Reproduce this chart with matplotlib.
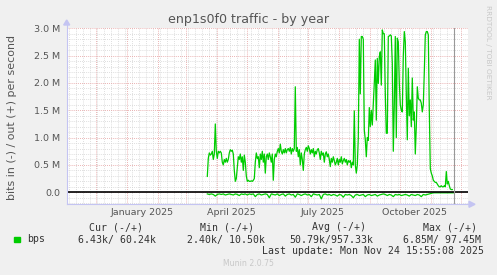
import matplotlib
matplotlib.use("Agg")
import matplotlib.pyplot as plt
import matplotlib.dates as mdates
from matplotlib.lines import Line2D
from matplotlib.patches import Polygon
from datetime import datetime, timedelta
import numpy as np

# ---------------- data ----------------
last_update = datetime(2025, 11, 24, 15, 55, 8)
view_days = (-387.6, 13.7)           # days relative to last update

out_first_day = -247                 # daily values, Mbit/s (out, +)
out_mbps = [
    0.29, 0.62, 0.72, 0.68, 0.70, 0.75, 0.60, 0.70, 1.25, 0.75,
    0.62, 0.75, 0.72, 0.75, 0.72, 0.55, 0.50, 0.60, 0.55, 0.62,
    0.55, 0.60, 0.72, 0.78, 0.75, 0.77, 0.70, 0.40, 0.20, 0.25,
    0.45, 0.65, 0.60, 0.70, 0.55, 0.65, 0.40, 0.68, 0.55, 0.30,
    0.20, 0.22, 0.20, 0.20, 0.21, 0.20, 0.22, 0.25, 0.55, 0.72,
    0.62, 0.65, 0.45, 0.70, 0.60, 0.75, 0.55, 0.70, 0.35, 0.65,
    0.70, 0.60, 0.72, 0.65, 0.55, 0.70, 0.22, 0.60, 0.70, 0.65,
    0.75, 0.80, 0.72, 0.88, 0.75, 0.70, 0.78, 0.72, 0.80, 0.72,
    0.78, 0.80, 0.75, 0.82, 0.70, 0.80, 0.75, 0.80, 1.93, 0.75,
    0.82, 0.65, 0.78, 0.50, 0.72, 0.60, 0.40, 0.70, 0.78, 0.82,
    0.75, 0.85, 0.80, 0.70, 0.78, 0.72, 0.80, 0.65, 0.75, 0.70,
    0.78, 0.80, 0.72, 0.60, 0.75, 0.68, 0.72, 0.55, 0.70, 0.74,
    0.65, 0.70, 0.60, 0.47, 0.62, 0.55, 0.65, 0.58, 0.50, 0.55,
    0.62, 0.50, 0.60, 0.55, 0.65, 0.52, 0.58, 0.62, 0.55, 0.60,
    0.50, 0.58, 0.55, 0.58, 0.45, 0.55, 0.50, 1.49, 0.50, 0.35,
    0.50, 1.00, 2.80, 1.80, 2.85, 2.85, 2.80, 1.14, 0.96, 0.65,
    1.00, 0.95, 1.55, 1.20, 1.50, 1.23, 1.60, 2.00, 2.42, 1.32,
    2.45, 1.99, 2.48, 2.57, 1.96, 2.97, 2.90, 2.90, 1.80, 1.08,
    1.08, 2.85, 2.86, 2.88, 2.86, 2.36, 0.75, 1.60, 2.85, 1.00,
    2.82, 2.75, 2.00, 1.60, 1.50, 1.47, 2.50, 2.94, 2.75, 1.80,
    0.96, 2.27, 1.40, 1.69, 1.20, 2.09, 1.32, 1.47, 0.70, 1.20,
    1.93, 1.72, 1.69, 1.69, 1.63, 1.47, 1.60, 2.20, 2.88, 2.94,
    2.94, 2.88, 1.50, 0.43, 0.35, 0.30, 0.22, 0.20, 0.18, 0.18,
    0.15, 0.12, 0.10, 0.10, 0.12, 0.10, 0.10, 0.12, 0.10, 0.38,
    0.15, 0.20, 0.12, 0.06, 0.05, 0.05,
]

in_first_day = -247                  # every 2 days, Mbit/s (in, drawn as -)
in_step_days = 2
in_mbps = [
    -0.03, -0.04, -0.03, -0.04, -0.07, -0.04, -0.03, -0.04, -0.03, -0.05,
    -0.04, -0.03, -0.04, -0.05, -0.03, -0.04, -0.06, -0.03, -0.04, -0.03,
    -0.05, -0.03, -0.04, -0.03, -0.08, -0.04, -0.03, -0.05, -0.04, -0.03,
    -0.04, -0.10, -0.03, -0.04, -0.05, -0.03, -0.06, -0.04, -0.03, -0.07,
    -0.04, -0.03, -0.05, -0.04, -0.09, -0.03, -0.04, -0.06, -0.04, -0.03,
    -0.05, -0.04, -0.08, -0.03, -0.04, -0.05, -0.04, -0.12, -0.04, -0.03,
    -0.05, -0.04, -0.06, -0.04, -0.05, -0.07, -0.04, -0.05, -0.09, -0.04,
    -0.05, -0.04, -0.06, -0.10, -0.05, -0.04, -0.06, -0.05, -0.04, -0.08,
    -0.05, -0.04, -0.06, -0.05, -0.04, -0.07, -0.05, -0.04, -0.03, -0.04,
    -0.06, -0.04, -0.05, -0.08, -0.04, -0.05, -0.04, -0.06, -0.05, -0.04,
    -0.05, -0.07, -0.04, -0.05, -0.06, -0.04, -0.05, -0.08, -0.04, -0.05,
    -0.04, -0.03, -0.02, -0.01, -0.01, -0.01, -0.01, -0.01, -0.01, -0.01,
    -0.01, -0.01, -0.01, -0.01,
]

y_ticks = [0.0, 0.5, 1.0, 1.5, 2.0, 2.5, 3.0]
y_tick_labels = ["0.0", "0.5 M", "1.0 M", "1.5 M", "2.0 M", "2.5 M", "3.0 M"]
y_range = (-0.22, 3.0)

x_label_months = [(2025, 1), (2025, 4), (2025, 7), (2025, 10)]

title = "enp1s0f0 traffic - by year"
ylabel = "bits in (-) / out (+) per second"
legend_name = "bps"
col_heads = ["Cur (-/+)", "Min (-/+)", "Avg (-/+)", "Max (-/+)"]
col_vals = ["6.43k/ 60.24k", "2.40k/ 10.50k", "50.79k/957.33k", "6.85M/ 97.45M"]
last_update_text = "Last update: Mon Nov 24 15:55:08 2025"
footer = "Munin 2.0.75"
side_text = "RRDTOOL / TOBI OETIKER"

# ---------------- drawing ----------------
W, H = 497, 275
fig = plt.figure(figsize=(W / 100, H / 100), dpi=100, facecolor="#F0F0F0")

def fx(px):
    return px / W

def fy(py):
    return 1 - py / H

ax_l, ax_r, ax_t, ax_b = 66.7, 468.0, 28.3, 204.3
ax = fig.add_axes([fx(ax_l), fy(ax_b), fx(ax_r - ax_l), (ax_b - ax_t) / H])
ax.set_facecolor("white")

t0 = mdates.date2num(last_update)
out_x = [t0 + out_first_day + i for i in range(len(out_mbps))]
in_x = [t0 + in_first_day + in_step_days * i for i in range(len(in_mbps))]

GREEN = "#00CC00"
ax.plot(out_x, out_mbps, color=GREEN, lw=0.9, zorder=4, solid_joinstyle="round")
ax.plot(in_x, in_mbps, color=GREEN, lw=0.9, zorder=4, solid_joinstyle="round")

ax.set_xlim(t0 + view_days[0], t0 + view_days[1])
ax.set_ylim(*y_range)

# grids
ax.xaxis.set_major_locator(mdates.MonthLocator())
ax.xaxis.set_minor_locator(mdates.WeekdayLocator(byweekday=mdates.MO))
ax.yaxis.set_major_locator(matplotlib.ticker.FixedLocator(y_ticks))
ax.yaxis.set_minor_locator(matplotlib.ticker.MultipleLocator(0.1))
ax.grid(which="minor", color="#d4d4d4", lw=0.6, ls=(0, (1, 1.5)), zorder=0)
ax.grid(which="major", color="#e49a9a", lw=0.6, ls=(0, (1, 1.5)), zorder=1)
ax.set_xticklabels([])
ax.set_yticklabels(y_tick_labels)
ax.tick_params(which="both", length=0)
ax.tick_params(axis="y", pad=4.8, labelsize=6.8, labelcolor="#555555")
ax.tick_params(axis="x", labelbottom=False)
for s in ax.spines.values():
    s.set_visible(False)

# month labels (centered mid-month, as rrdtool does)
for (yy, mm) in x_label_months:
    xd = mdates.date2num(datetime(yy, mm, 16))
    ax.text(xd, -0.02, f"{datetime(yy, mm, 1):%B %Y}", transform=ax.get_xaxis_transform(),
            ha="center", va="top", fontsize=6.8, color="#555555")

# zero line and "now" line
ax.axhline(0, color="black", lw=1.2, zorder=5)
ax.axvline(t0, color="#999999", lw=0.8, zorder=5)

# axis lines with arrows (figure coords)
AX = "#c4c4f2"
fig.add_artist(Line2D([fx(ax_l), fx(ax_l)], [fy(ax_b), fy(24)], color=AX, lw=0.8))
fig.add_artist(Line2D([fx(ax_l), fx(471)], [fy(ax_b), fy(ax_b)], color=AX, lw=0.8))
fig.add_artist(Polygon([[fx(ax_l - 3), fy(25)], [fx(ax_l + 3), fy(25)], [fx(ax_l), fy(20)]],
                       closed=True, color=AX, transform=fig.transFigure))
fig.add_artist(Polygon([[fx(469), fy(ax_b - 3)], [fx(469), fy(ax_b + 3)], [fx(475), fy(ax_b)]],
                       closed=True, color=AX, transform=fig.transFigure))

# texts
fig.text(fx(248.5), fy(19), title, ha="center", va="center", fontsize=9.1, color="#555555")
fig.text(fx(12), fy(118), ylabel, ha="center", va="center", rotation=90, fontsize=7.9,
         color="#555555")
fig.text(fx(488), fy(5), side_text, ha="center", va="top", rotation=270, fontsize=5.3,
         color="#c8c8c8")

MONO = "DejaVu Sans Mono"
fs = 7.1
fig.add_artist(Polygon([[fx(14), fy(236.5)], [fx(19.5), fy(236.5)], [fx(19.5), fy(242)],
                        [fx(14), fy(242)]], closed=True, color=GREEN, transform=fig.transFigure))
fig.text(fx(27), fy(239.5), legend_name, ha="left", va="center", fontsize=fs, family=MONO,
         color="#333333")
head_x = [89, 200, 312, 423]
val_x = [78, 187, 289, 403]
for hx, h in zip(head_x, col_heads):
    fig.text(fx(hx), fy(227.5), h, ha="left", va="center", fontsize=fs, family=MONO, color="#333333")
for vx, v in zip(val_x, col_vals):
    fig.text(fx(vx), fy(239.5), v, ha="left", va="center", fontsize=fs, family=MONO, color="#333333")
fig.text(fx(262), fy(251), last_update_text, ha="left", va="center", fontsize=fs, family=MONO,
         color="#333333")
fig.text(fx(248), fy(264), footer, ha="center", va="center", fontsize=5.6, color="#c8c8c8")

fig.savefig("out.png", dpi=100, facecolor=fig.get_facecolor())
